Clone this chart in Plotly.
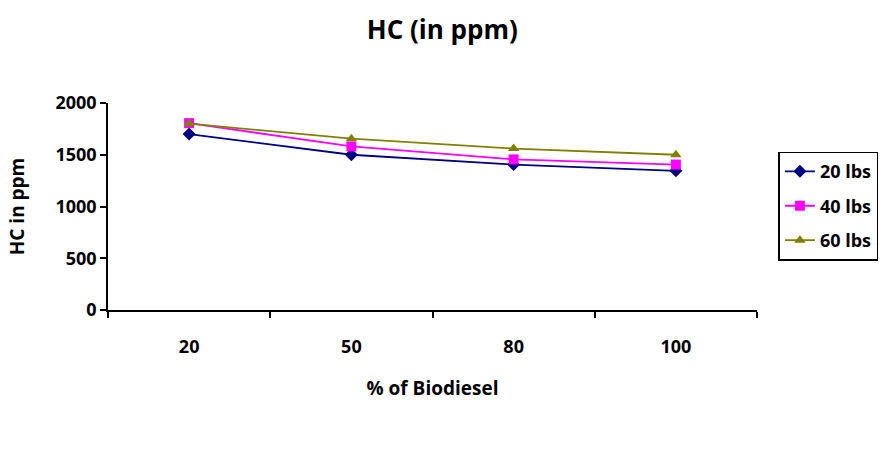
import plotly.graph_objects as go

categories = ["20", "50", "80", "100"]
series_names = ["20 lbs", "40 lbs", "60 lbs"]
lbs20 = [1700, 1500, 1405, 1345]
lbs40 = [1805, 1580, 1455, 1405]
lbs60 = [1800, 1655, 1560, 1500]
y_ticks = [0, 500, 1000, 1500, 2000]

colors = ["#000080", "#FF00FF", "#808000"]
symbols = ["diamond", "square", "triangle-up"]

font_family = "Open Sans, Lato, sans-serif"

fig = go.Figure()
for name, vals, c, s in zip(series_names, [lbs20, lbs40, lbs60], colors, symbols):
    fig.add_trace(go.Scatter(
        x=categories, y=vals, name="<b>" + name + "</b>", mode="lines+markers",
        legendgroup=name,
        line=dict(color=c, width=1.8),
        marker=dict(symbol=s, size=10, color=c),
    ))

fig.update_layout(
    width=890, height=454,
    margin=dict(l=108, r=130, t=103, b=144),
    plot_bgcolor="white", paper_bgcolor="white",
    font=dict(family=font_family, color="black", size=18),
    title=dict(text="<b>HC (in ppm)</b>", x=0.497, xanchor="center", y=0.935, yanchor="middle",
               font=dict(size=26, family=font_family, color="black")),
    showlegend=True,
    legend=dict(x=1.033, xanchor="left", y=0.765, yanchor="top",
                bordercolor="black", borderwidth=1.5, bgcolor="white",
                font=dict(size=18, family=font_family, color="black"),
                itemwidth=30, tracegroupgap=8),
)
fig.update_xaxes(
    type="category", range=[-0.5, len(categories) - 0.5],
    showgrid=False, showline=True, linecolor="black", linewidth=1.5,
    ticks="outside", tickson="boundaries", ticklen=6, tickcolor="black", tickwidth=1.5,
    ticklabelstandoff=20,
    tickfont=dict(size=18, family=font_family, color="black"),
    tickvals=categories, ticktext=["<b>" + c + "</b>" for c in categories],
    title=dict(text="<b>% of Biodiesel</b>", font=dict(size=19, family=font_family), standoff=24),
)
fig.update_yaxes(
    range=[0, 2000], tickvals=y_ticks, ticktext=["<b>" + str(v) + "</b>" for v in y_ticks],
    showgrid=False, zeroline=False,
    showline=True, linecolor="black", linewidth=1.5,
    ticks="outside", ticklen=6, tickcolor="black", tickwidth=1.5,
    tickfont=dict(size=18, family=font_family, color="black"),
    title=dict(text="<b>HC in ppm</b>", font=dict(size=19, family=font_family), standoff=26),
)

fig.write_html("out.html")
